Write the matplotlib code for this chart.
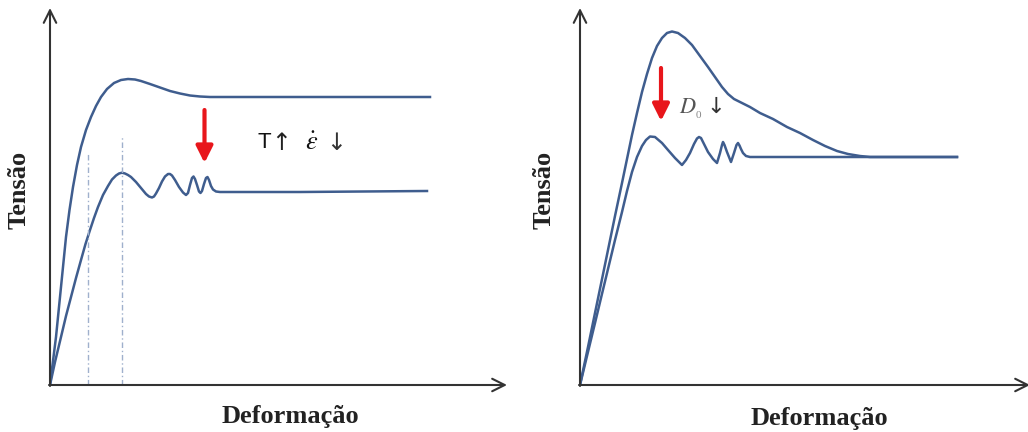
import matplotlib
matplotlib.use("Agg")
import matplotlib.pyplot as plt

# ---------------- data (arbitrary units: strain, stress) ----------------
# Left panel
left_upper_x = [0, 6, 11, 16, 19.5, 23, 27, 31, 36, 41, 46, 51, 57, 64, 71, 78, 85, 91, 100,
                110, 120, 130, 140, 150, 160, 200, 380]
left_upper_y = [0, 48, 98, 148, 175, 198, 220, 238, 255, 268, 279, 288, 296, 302, 305, 306,
                305.5, 304, 301, 297.5, 294, 291.5, 289.5, 288.5, 288, 288, 288]

left_lower_x = [0, 5, 11, 16, 21, 26, 31, 35.5, 40, 44, 48, 53, 58, 62, 66, 69, 72, 75, 78, 81,
                86, 91, 96, 99, 102, 104, 106, 109, 112, 115, 118, 120, 122, 125, 129, 133, 136,
                138, 140, 142, 143.5, 145, 147, 149, 150.5, 152, 154, 156, 157.5, 159, 161, 163,
                166, 170, 190, 250, 377]
left_lower_y = [0, 23, 48, 69, 88, 107, 125, 141, 155, 167, 178, 190, 199, 205.5, 209.5, 211.5,
                212.3, 211.5, 210, 208, 203, 197, 191, 188.5, 187.5, 188.5, 191.5, 197, 203.5,
                208.5, 211, 211, 209.5, 205, 198, 192.5, 190, 192, 200, 207, 208.5, 206, 200,
                193.5, 192, 194, 201, 207, 208, 205, 199, 195.5, 193.5, 193, 193, 193, 194]

left_dash_x = [38, 72]
left_dash_top = [233, 248]
left_red_arrow = (154.5, 275, 222)   # x, y_start, y_end

# Right panel
right_upper_x = [0, 8, 15, 21, 28, 35, 42, 47, 52, 57, 62, 67, 72, 77, 82, 87, 92, 98, 105, 112,
                 120, 128, 135, 142, 148, 154, 160, 170, 180, 193, 207, 220, 233, 245, 257, 268,
                 280, 290, 377]
right_upper_y = [0, 38, 72, 101, 135, 169, 202, 226, 250, 272, 293, 311, 327, 339, 347, 352, 353.5,
                 352, 347, 340, 329, 318, 308, 298, 291, 286, 283, 278, 272, 266, 258, 252, 245,
                 239, 234, 231, 229, 228, 228]

right_lower_x = [0, 7, 15, 21, 28, 35, 42, 47, 52, 57, 62, 66, 70, 75, 82, 88, 95, 102, 106, 110,
                 114, 117, 119, 121, 123, 128, 133, 137, 140, 142, 143, 144.5, 147, 151, 154, 156.5,
                 158, 159.5, 161, 163, 166, 170, 187, 377]
right_lower_y = [0, 29, 62, 87, 116, 145, 173, 194, 213, 228, 239, 245, 248.5, 248, 242, 235, 227,
                 220, 225, 232, 241, 246.5, 248, 247, 243, 233, 226, 222, 232, 240, 243, 240, 233,
                 223, 232, 240, 242, 239.5, 236, 232, 229, 228, 228, 228]
right_red_arrow = (81, 317, 264)

# ---------------- style ----------------
W, H = 1028, 432
LINE = "#3f5d8e"
AXC = "#333333"
fig = plt.figure(figsize=(W / 100, H / 100), dpi=100)
fig.patch.set_facecolor("white")

def make_axes(x0, width):
    ax = fig.add_axes([x0 / W, (H - 385) / H, width / W, 375 / H])
    ax.set_xlim(0, width)
    ax.set_ylim(0, 375)
    ax.axis("off")
    ax.annotate("", xy=(width + 2, 0), xytext=(-1, 0),
                arrowprops=dict(arrowstyle="->,head_length=0.9,head_width=0.45",
                                color=AXC, lw=1.5, shrinkA=0, shrinkB=0),
                annotation_clip=False)
    ax.annotate("", xy=(0, 377), xytext=(0, -1),
                arrowprops=dict(arrowstyle="->,head_length=0.9,head_width=0.45",
                                color=AXC, lw=1.5, shrinkA=0, shrinkB=0),
                annotation_clip=False)
    return ax

def red_arrow(ax, spec):
    x, y0, y1 = spec
    ax.annotate("", xy=(x, y1), xytext=(x, y0),
                arrowprops=dict(arrowstyle="-|>,head_length=1.0,head_width=0.5",
                                color="#e8161b", lw=3, shrinkA=0, shrinkB=0))

label_kw = dict(family=["Liberation Serif", "DejaVu Serif"], fontweight="bold",
                fontsize=19, color="#222222")
arrow_font = ["DejaVu Sans"]

# Left panel
axL = make_axes(50, 455)
axL.plot(left_upper_x, left_upper_y, color=LINE, lw=1.8, solid_joinstyle="round")
axL.plot(left_lower_x, left_lower_y, color=LINE, lw=1.8, solid_joinstyle="round")
for dx, dt in zip(left_dash_x, left_dash_top):
    axL.plot([dx, dx], [0, dt], color="#9fb0cc", lw=1.0, ls=(0, (4, 2, 1, 2)))
red_arrow(axL, left_red_arrow)
axL.text(208, 242, "T", family=["Liberation Sans", "DejaVu Sans"], fontsize=16,
         ha="left", va="center", color="#111111")
axL.text(221, 242.5, "\u2191", family=arrow_font, fontsize=17,
         ha="left", va="center", color="#222222")
axL.text(255, 242, r"$\dot{\varepsilon}$", math_fontfamily="stix", fontsize=19,
         ha="left", va="center", color="#111111")
axL.text(276, 242.5, "\u2193", family=arrow_font, fontsize=17,
         ha="left", va="center", color="#333333")

# Right panel
axR = make_axes(580, 448)
axR.plot(right_upper_x, right_upper_y, color=LINE, lw=1.8, solid_joinstyle="round")
axR.plot(right_lower_x, right_lower_y, color=LINE, lw=1.8, solid_joinstyle="round")
red_arrow(axR, right_red_arrow)
axR.text(99, 278, r"$D$", math_fontfamily="stix", fontsize=16,
         ha="left", va="center", color="#555555")
axR.text(115.5, 270, "0", family=["Liberation Serif", "DejaVu Serif"], fontsize=8,
         ha="left", va="center", color="#888888")
axR.text(126, 278, "\u2193", family=arrow_font, fontsize=16,
         ha="left", va="center", color="#333333")

# Axis titles
fig.text(19 / W, 1 - 190 / H, "Tensão", rotation=90, ha="center", va="center", **label_kw)
fig.text(544 / W, 1 - 190 / H, "Tensão", rotation=90, ha="center", va="center", **label_kw)
fig.text(290 / W, 1 - 416 / H, "Deformação", ha="center", va="center", **label_kw)
fig.text(819 / W, 1 - 418 / H, "Deformação", ha="center", va="center", **label_kw)

fig.savefig("out.png", dpi=100, facecolor="white")
